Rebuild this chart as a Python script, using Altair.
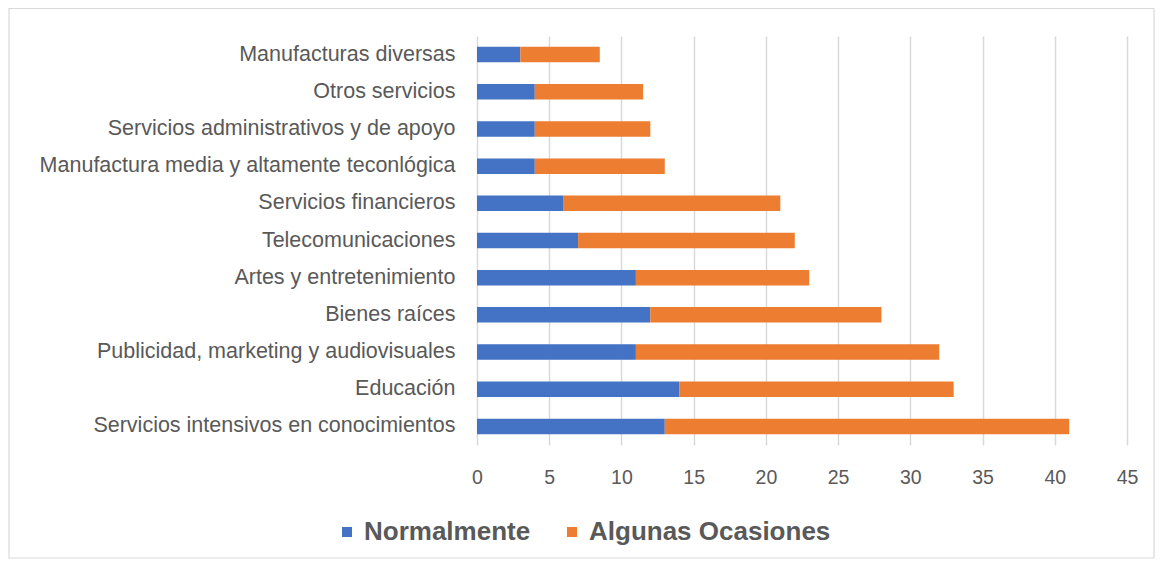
import altair as alt
import pandas as pd

categories = [
    "Manufacturas diversas",
    "Otros servicios",
    "Servicios administrativos y de apoyo",
    "Manufactura media y altamente teconlógica",
    "Servicios financieros",
    "Telecomunicaciones",
    "Artes y entretenimiento",
    "Bienes raíces",
    "Publicidad, marketing y audiovisuales",
    "Educación",
    "Servicios intensivos en conocimientos",
]
normalmente = [3, 4, 4, 4, 6, 7, 11, 12, 11, 14, 13]
algunas = [5.5, 7.5, 8, 9, 15, 15, 12, 16, 21, 19, 28]
series = ["Normalmente", "Algunas Ocasiones"]
colors = ["#4472C4", "#ED7D31"]
x_ticks = [0, 5, 10, 15, 20, 25, 30, 35, 40, 45]

rows = []
for c, n, a in zip(categories, normalmente, algunas):
    rows.append({"cat": c, "serie": series[0], "val": n, "ord": 0})
    rows.append({"cat": c, "serie": series[1], "val": a, "ord": 1})
df = pd.DataFrame(rows)

FONT = "Liberation Sans"

bars = alt.Chart(df).mark_bar(size=15.5).encode(
    y=alt.Y("cat:N", sort=categories, title=None,
            scale=alt.Scale(paddingInner=0.58, paddingOuter=0.29),
            axis=alt.Axis(labelFont=FONT, labelFontSize=21.5, labelColor="#595959",
                          labelPadding=22, ticks=False, domain=False, labelLimit=600)),
    x=alt.X("val:Q", stack="zero", title=None,
            scale=alt.Scale(domain=[0, 45], nice=False),
            axis=alt.Axis(values=x_ticks, labelFont=FONT, labelFontSize=19.5,
                          labelColor="#595959", labelPadding=23, ticks=False,
                          labelFlush=False,
                          domain=False, grid=True, gridColor="#d9d9d9", gridWidth=1.5)),
    color=alt.Color("serie:N", sort=series,
                    scale=alt.Scale(domain=series, range=colors),
                    legend=alt.Legend(title=None, orient="none", direction="horizontal",
                                      legendX=-143, legendY=483, symbolType="square",
                                      symbolSize=100, symbolStrokeWidth=0,
                                      labelFont=FONT, labelFontSize=26, labelFontWeight="bold",
                                      labelLimit=600,
                                      labelColor="#595959", columnPadding=28, labelOffset=4)),
    order=alt.Order("ord:Q"),
)

frame = alt.Chart(pd.DataFrame({"a": [0]})).mark_rect(
    fill=None, stroke="#d9d9d9", strokeWidth=1.2
).encode(x=alt.value(-468), x2=alt.value(677), y=alt.value(-27.5), y2=alt.value(522))

chart = alt.layer(frame, bars).properties(
    width=650, height=409,
    autosize=alt.AutoSizeParams(type="none"),
    padding={"left": 469, "top": 28, "right": 28, "bottom": 114},
).configure_view(stroke=None)

chart.save("out.html", embed_options={"renderer": "svg", "actions": False})
